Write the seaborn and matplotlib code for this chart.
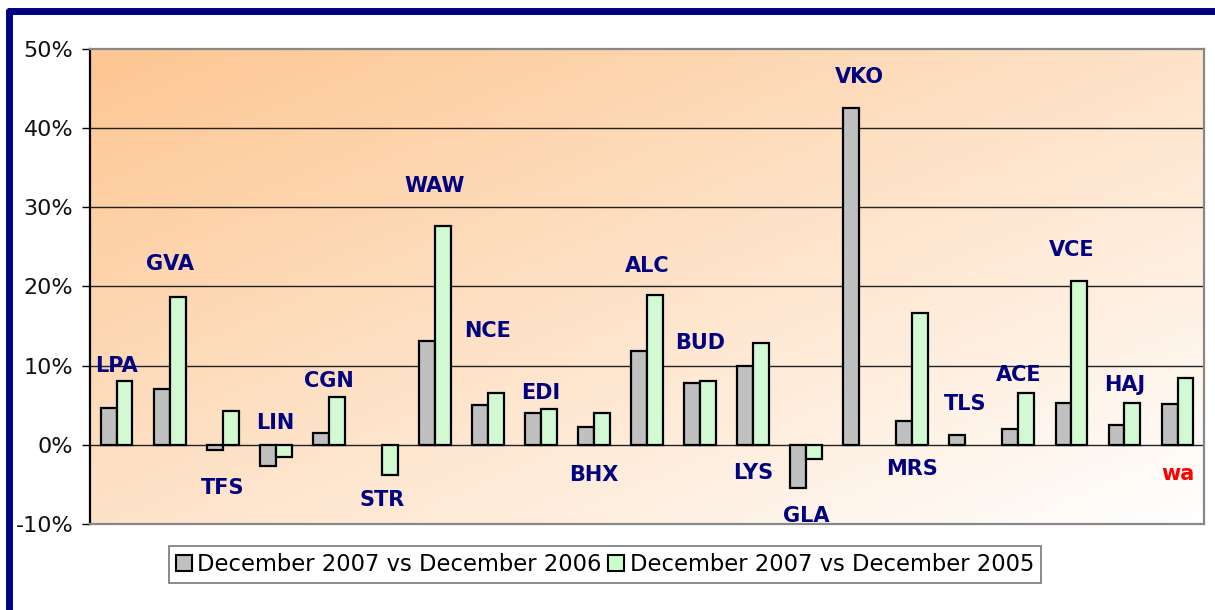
import numpy as np
import pandas as pd
import matplotlib
matplotlib.use('Agg')
import matplotlib.pyplot as plt
import seaborn as sns
from matplotlib.lines import Line2D

airports = ['LPA', 'GVA', 'TFS', 'LIN', 'CGN', 'STR', 'WAW', 'NCE', 'EDI', 'BHX', 'ALC',
            'BUD', 'LYS', 'GLA', 'VKO', 'MRS', 'TLS', 'ACE', 'VCE', 'HAJ', 'wa']
vs_2006 = [4.6, 7.1, -0.7, -2.7, 1.55, np.nan, 13.1, 5.0, 4.0, 2.3, 11.9,
           7.8, 9.9, -5.5, 42.6, 3.05, 1.3, 2.05, 5.3, 2.5, 5.1]
vs_2005 = [8.1, 18.7, 4.3, -1.5, 6.05, -3.75, 27.7, 6.55, 4.5, 4.0, 18.9,
           8.1, 12.9, -1.75, np.nan, 16.7, np.nan, 6.6, 20.7, 5.3, 8.4]
series = ['December 2007 vs December 2006', 'December 2007 vs December 2005']

# vertical spot of each airport label, in percent
label_y = [9.9, 22.8, -5.5, 2.75, 8.0, -7.0, 32.7, 14.4, 6.5, -3.8, 22.6,
           12.9, -3.55, -9.0, 46.5, -3.0, 5.1, 8.8, 24.6, 7.55, -3.65]

df = pd.DataFrame({
    'airport': airports * 2,
    'series': [series[0]] * len(airports) + [series[1]] * len(airports),
    'change': vs_2006 + vs_2005,
})

navy = '#000080'
fig = plt.figure(figsize=(12.15, 6.1), dpi=100)
ax = fig.add_axes([0.0741, 0.141, 0.9169, 0.7787])

# diagonal orange -> white fill of the plot area
n = 300
xx, yy = np.meshgrid(np.linspace(0, 1, n), np.linspace(0, 1, n))
t = np.clip((xx + yy) / 2.0, 0, 1)[..., None]
c0 = np.array([253, 198, 145]) / 255.0
c1 = np.array([255, 255, 255]) / 255.0
grad = c0 * (1 - t) + c1 * t
ax.imshow(grad, extent=[0, 1, 0, 1], transform=ax.transAxes, aspect='auto',
          zorder=0, interpolation='bilinear')

sns.barplot(data=df, x='airport', y='change', hue='series', ax=ax,
            palette=['#C0C0C0', '#CCFFCC'], width=0.6, gap=0,
            edgecolor='black', linewidth=1.6, errorbar=None, legend=False,
            zorder=3)

ax.set_xlim(-0.5, len(airports) - 0.5)
ax.set_ylim(-10, 50)
ax.set_yticks(range(-10, 51, 10))
ax.set_yticklabels([f'{v}%' for v in range(-10, 51, 10)], fontsize=16,
                   color='#111111')
ax.set_xticks([])
ax.set_xlabel('')
ax.set_ylabel('')
ax.tick_params(axis='y', length=6, width=1, color='black', pad=6)

for v in range(0, 50, 10):
    ax.axhline(v, color='#222222', linewidth=1.0, zorder=2)

ax.spines['left'].set_color('black')
ax.spines['bottom'].set_color('#888888')
ax.spines['top'].set_color('#888888')
ax.spines['right'].set_color('#888888')
for s in ax.spines.values():
    s.set_linewidth(1.6)
    s.set_zorder(4)

for i, (name, y) in enumerate(zip(airports, label_y)):
    col = 'red' if name == 'wa' else navy
    ax.text(i, y, name, ha='center', va='center', fontsize=15,
            fontweight='bold', color=col, zorder=5)

handles = [Line2D([], [], marker='s', linestyle='none', markersize=11,
                  markerfacecolor=c, markeredgecolor='black', markeredgewidth=1.5)
           for c in ['#C0C0C0', '#CCFFCC']]
leg = fig.legend(handles, series, loc='center', bbox_to_anchor=(0.498, 0.0746),
                 ncol=2, fontsize=16.3, frameon=True, fancybox=False,
                 handlelength=0.7, handletextpad=0.25, columnspacing=0.3,
                 borderpad=0.3, borderaxespad=0)
leg.get_frame().set_edgecolor('#555555')
leg.get_frame().set_linewidth(1.2)

# dark blue frame along top and left of the picture
fig.add_artist(Line2D([0.0058, 1.0], [0.982, 0.982], transform=fig.transFigure,
                      color=navy, linewidth=5, solid_capstyle='butt'))
fig.add_artist(Line2D([0.0074, 0.0074], [0.0, 0.986], transform=fig.transFigure,
                      color=navy, linewidth=5, solid_capstyle='butt'))

fig.savefig('out.png', dpi=100)
